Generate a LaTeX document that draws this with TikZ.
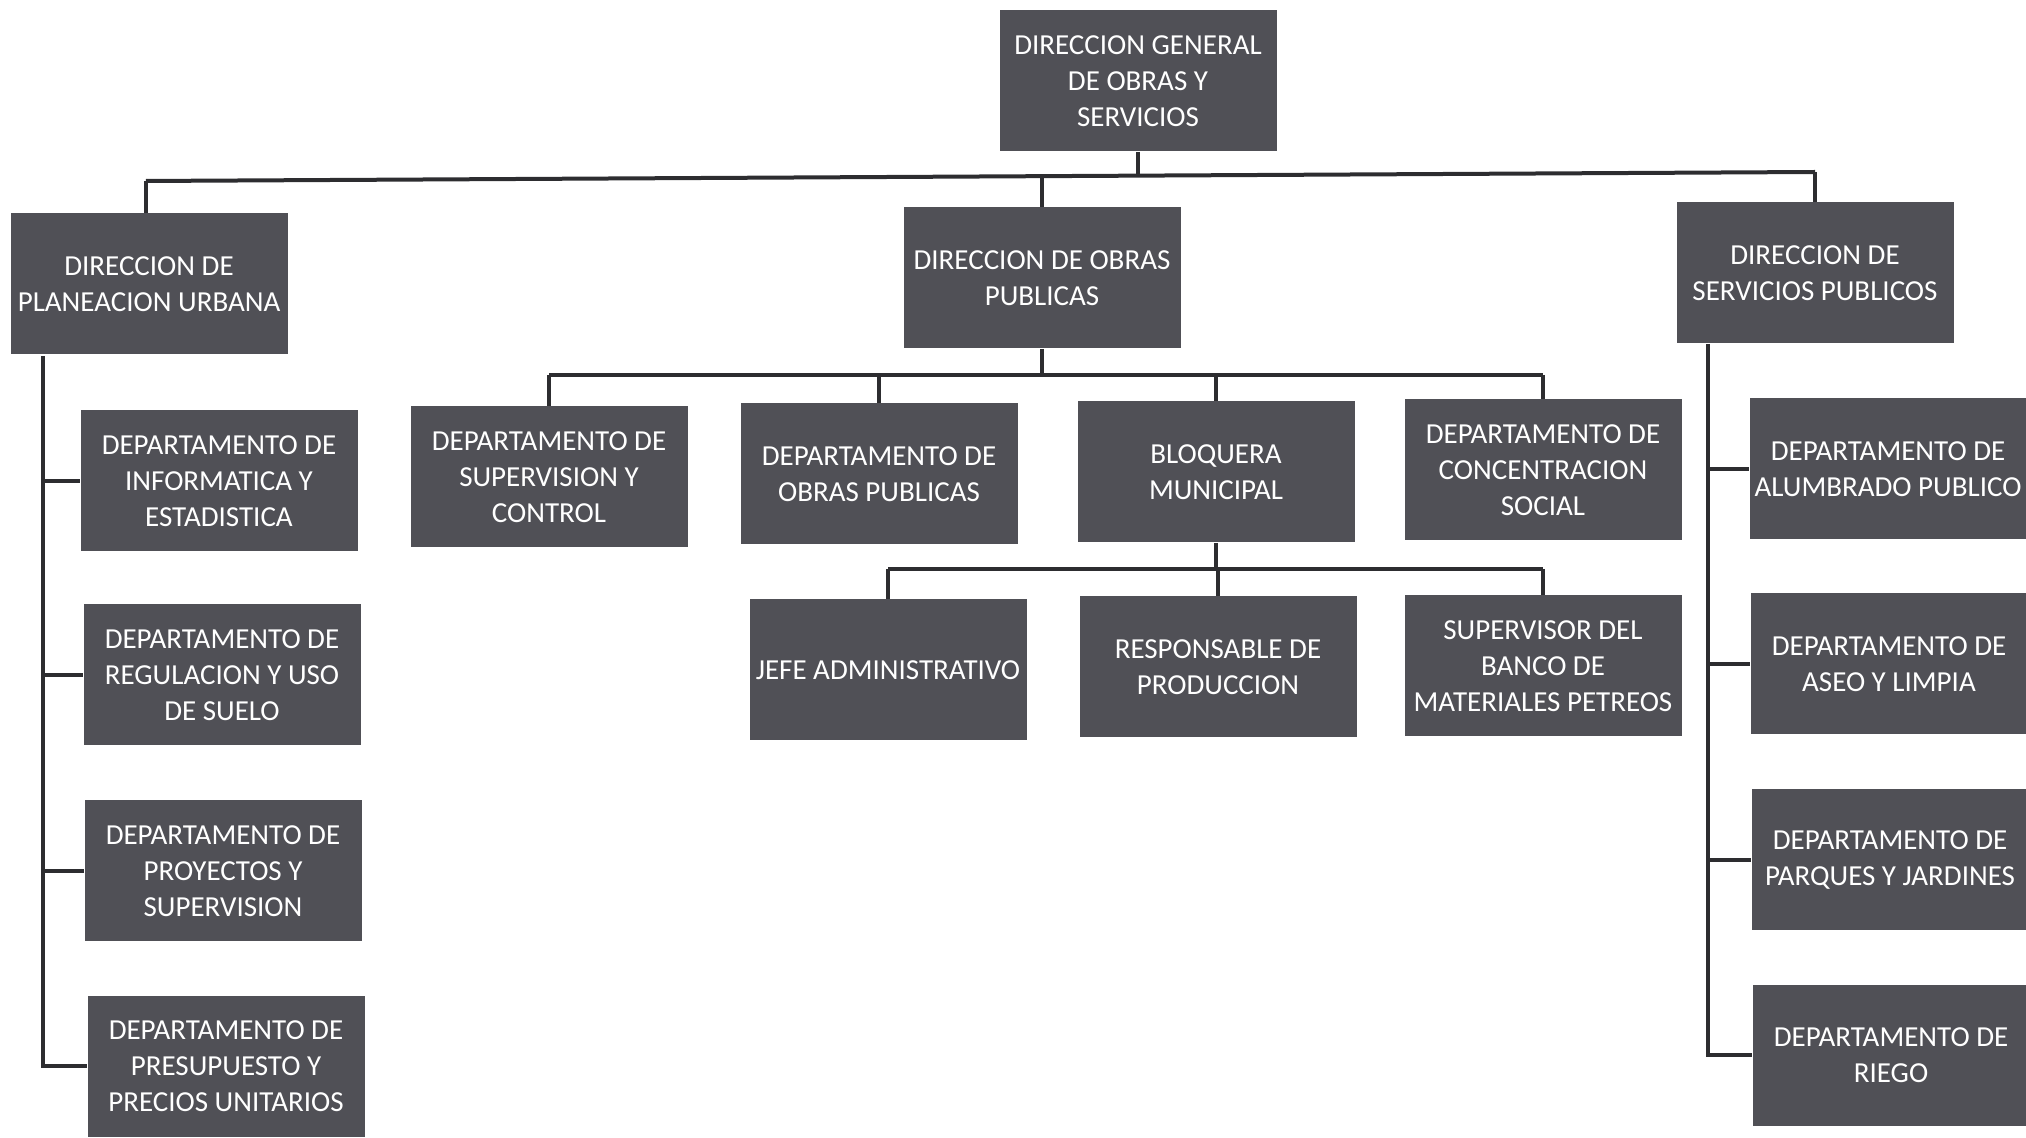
\documentclass[tikz,border=0pt]{standalone}
\usepackage{fontspec}
\setmainfont{Carlito}
\definecolor{boxfill}{RGB}{80,80,86}
\definecolor{linecol}{RGB}{45,45,48}
\begin{document}
\begin{tikzpicture}[x=0.5pt,y=-0.5pt,
  box/.style={fill=boxfill, draw=none, text=white, align=center,
    minimum width=138.5pt, minimum height=70.5pt, inner sep=1pt,
    font=\fontsize{14.5}{18}\selectfont},
  conn/.style={draw=linecol, line width=2pt}]
\useasboundingbox (0,0) rectangle (2026,1138);
% top
\node[box] (top) at (1138,81) {DIRECCION GENERAL\\DE OBRAS Y\\SERVICIOS};
% directions
\node[box] (plan) at (149,284) {DIRECCION DE\\PLANEACION URBANA};
\node[box] (obras) at (1042,278) {DIRECCION DE OBRAS\\PUBLICAS};
\node[box] (serv) at (1815,273) {DIRECCION DE\\SERVICIOS PUBLICOS};
% left column
\node[box] (l1) at (219,481) {DEPARTAMENTO DE\\INFORMATICA Y\\ESTADISTICA};
\node[box] (l2) at (222,675) {DEPARTAMENTO DE\\REGULACION Y USO\\DE SUELO};
\node[box] (l3) at (223,871) {DEPARTAMENTO DE\\PROYECTOS Y\\SUPERVISION};
\node[box] (l4) at (226,1066) {DEPARTAMENTO DE\\PRESUPUESTO Y\\PRECIOS UNITARIOS};
% middle row
\node[box] (m1) at (549,477) {DEPARTAMENTO DE\\SUPERVISION Y\\CONTROL};
\node[box] (m2) at (879,474) {DEPARTAMENTO DE\\OBRAS PUBLICAS};
\node[box] (m3) at (1216,472) {BLOQUERA\\MUNICIPAL};
\node[box] (m4) at (1543,470) {DEPARTAMENTO DE\\CONCENTRACION\\SOCIAL};
% lower row
\node[box] (b1) at (888,670) {JEFE ADMINISTRATIVO};
\node[box] (b2) at (1218,667) {RESPONSABLE DE\\PRODUCCION};
\node[box] (b3) at (1543,666) {SUPERVISOR DEL\\BANCO DE\\MATERIALES PETREOS};
% right column
\node[box] (r1) at (1888,469) {DEPARTAMENTO DE\\ALUMBRADO PUBLICO};
\node[box] (r2) at (1889,664) {DEPARTAMENTO DE\\ASEO Y LIMPIA};
\node[box] (r3) at (1890,860) {DEPARTAMENTO DE\\PARQUES Y JARDINES};
\node[box] (r4) at (1891,1055) {DEPARTAMENTO DE\\RIEGO};
% top bus
\coordinate (tbL) at (146,181);
\coordinate (tbR) at (1815,172);
\draw[conn] (tbL) -- (tbR);
\draw[conn] (top.south) -- (1138,176);
\draw[conn] (plan.north -| tbL) -- (tbL);
\draw[conn] (1042,177) -- (obras.north);
\draw[conn] (tbR) -- (serv.north);
% middle bus
\coordinate (mbL) at (549,375);
\coordinate (mbR) at (1543,375);
\draw[conn] (mbL) -- (mbR);
\draw[conn] (obras.south) -- (obras.south |- mbL);
\draw[conn] (mbL) -- (m1.north);
\draw[conn] (m2.north |- mbL) -- (m2.north);
\draw[conn] (m3.north |- mbL) -- (m3.north);
\draw[conn] (mbR) -- (m4.north);
% bloquera bus
\coordinate (bbL) at (888,569);
\coordinate (bbR) at (1543,569);
\draw[conn] (bbL) -- (bbR);
\draw[conn] (m3.south) -- (m3.south |- bbL);
\draw[conn] (bbL) -- (b1.north);
\draw[conn] (b2.north |- bbL) -- (b2.north);
\draw[conn] (bbR) -- (b3.north);
% left spine
\coordinate (lsT) at (43,356);
\coordinate (lsB) at (43,1066);
\draw[conn] (lsT) -- (lsB) -- (l4.west);
\draw[conn] (lsT |- l1.west) -- (l1.west);
\draw[conn] (lsT |- l2.west) -- (l2.west);
\draw[conn] (lsT |- l3.west) -- (l3.west);
% right spine
\coordinate (rsT) at (1708,344);
\coordinate (rsB) at (1708,1055);
\draw[conn] (rsT) -- (rsB) -- (r4.west);
\draw[conn] (rsT |- r1.west) -- (r1.west);
\draw[conn] (rsT |- r2.west) -- (r2.west);
\draw[conn] (rsT |- r3.west) -- (r3.west);
\end{tikzpicture}
\end{document}
